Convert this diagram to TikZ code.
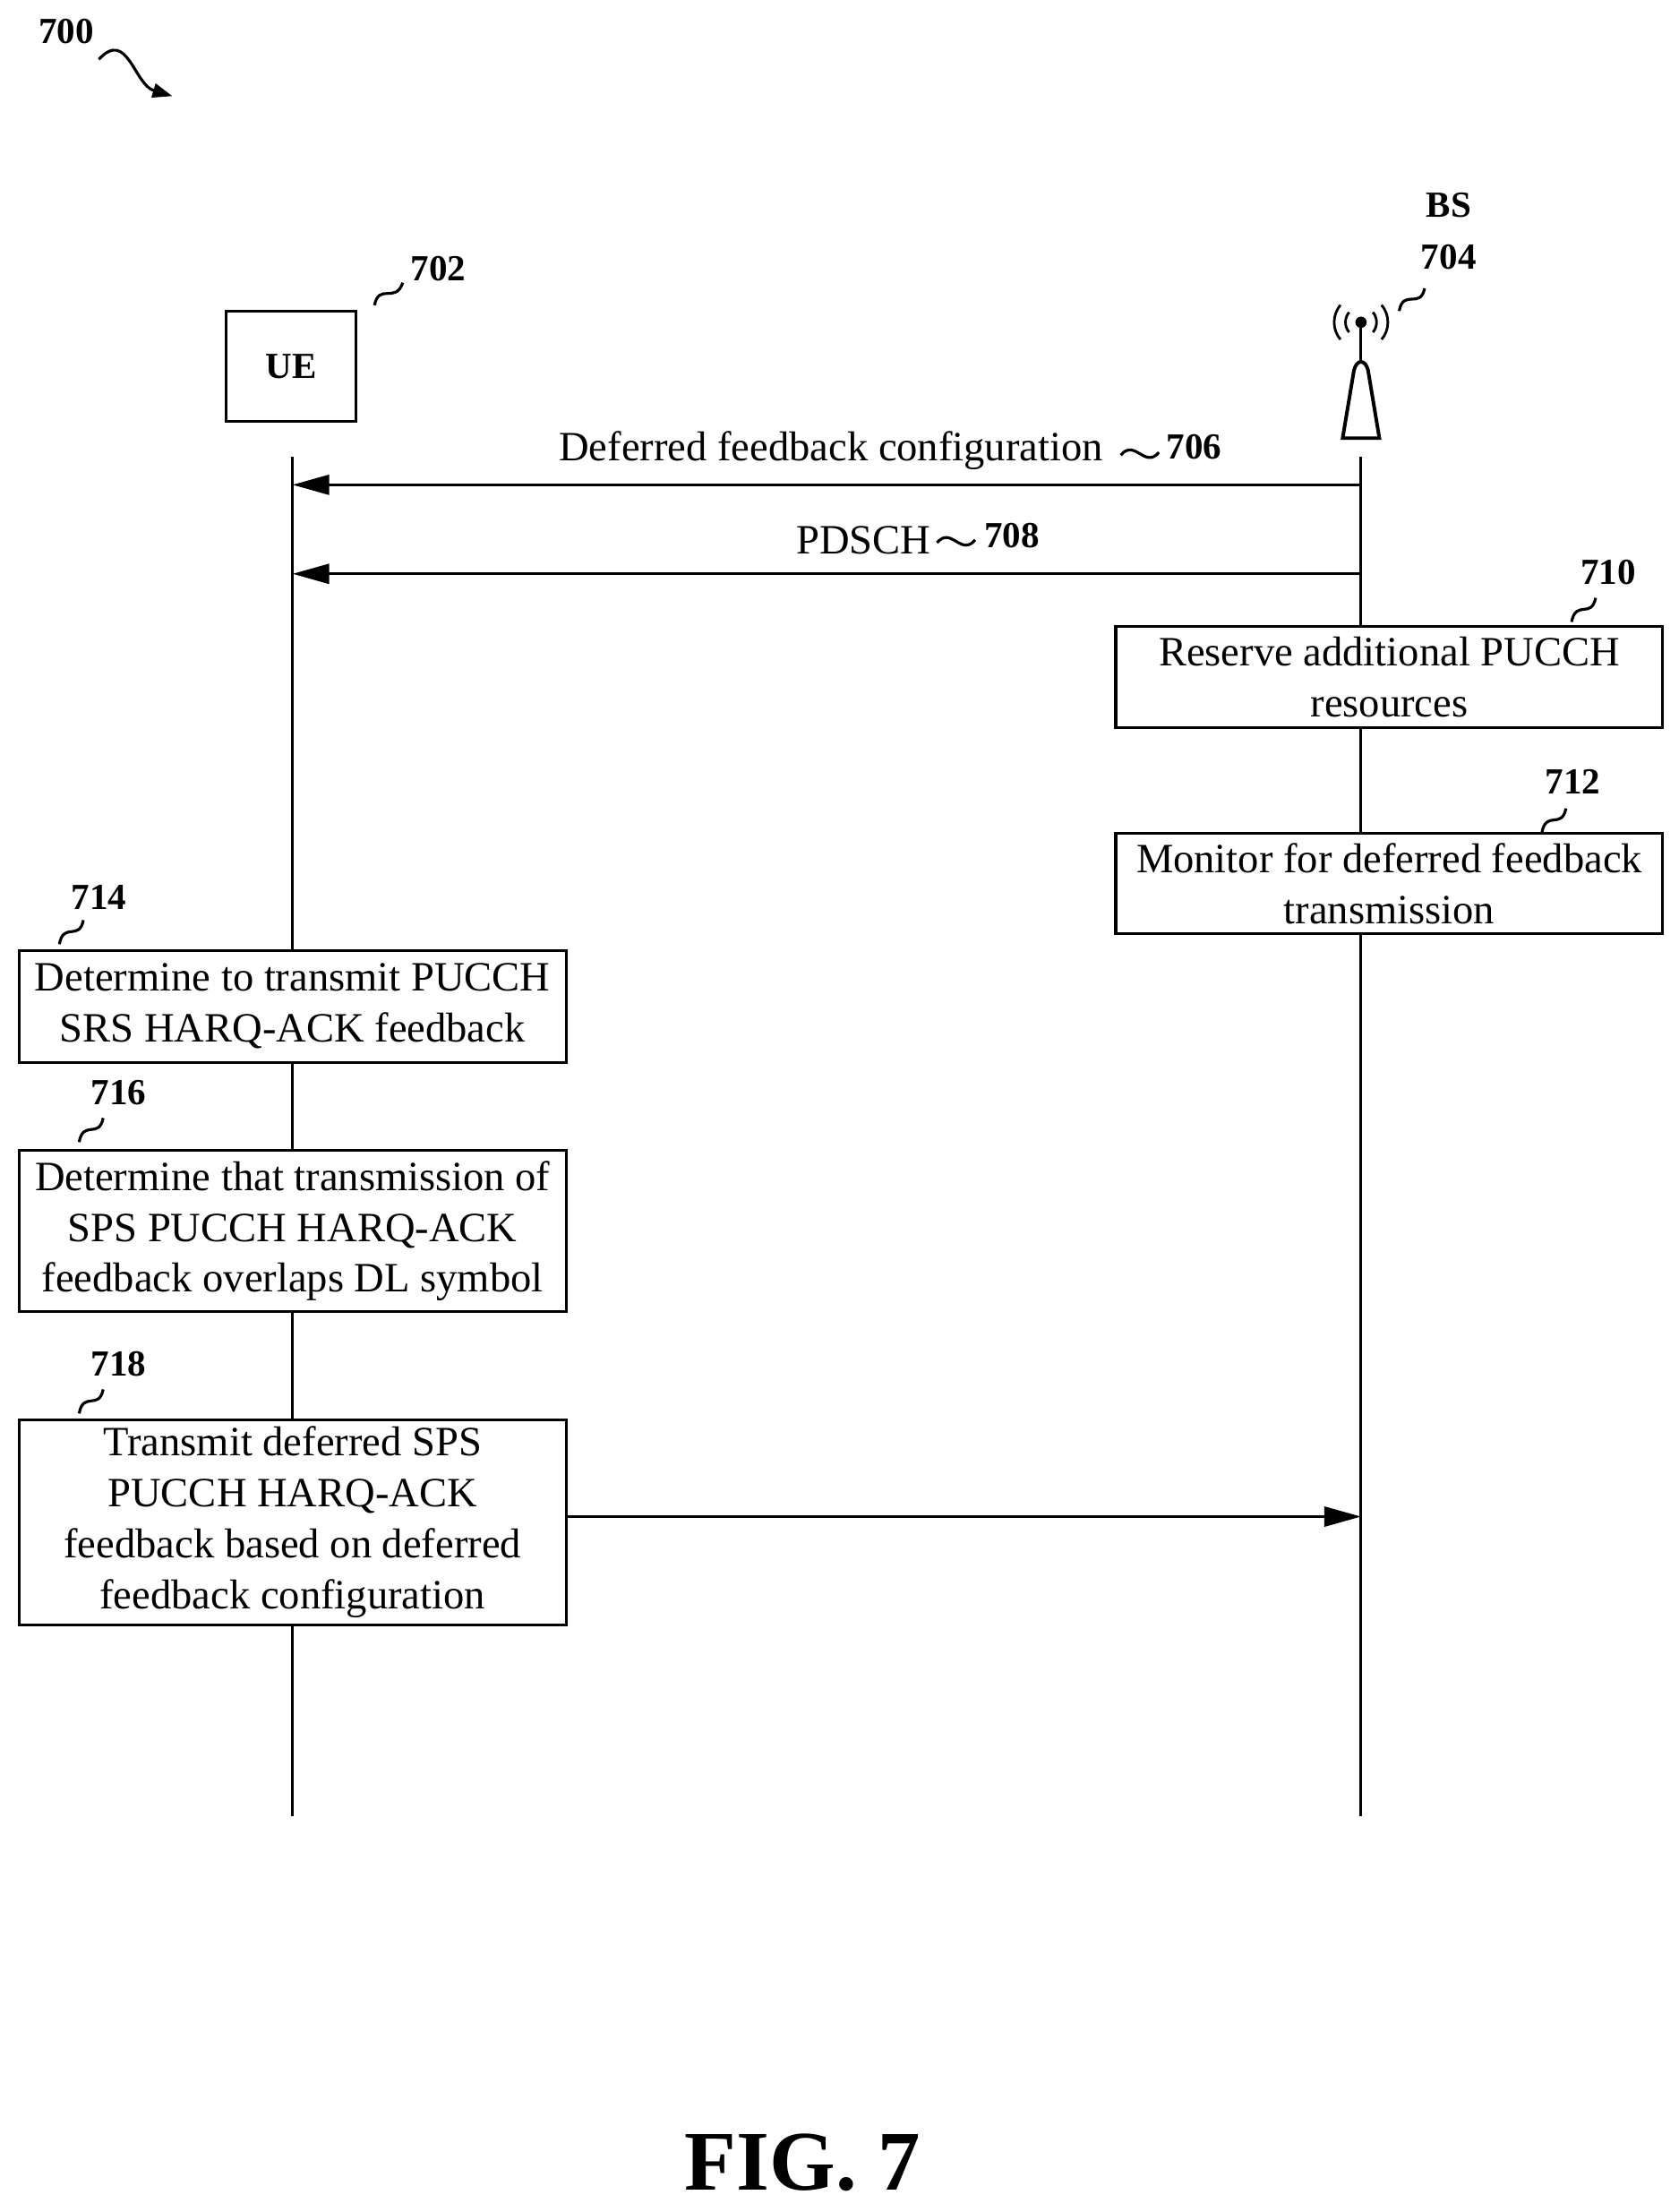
\documentclass[tikz,border=0pt]{standalone}
\usepackage{fontspec}
\setmainfont{Liberation Serif}
\usetikzlibrary{arrows.meta}
\begin{document}
\begin{tikzpicture}[x=1pt,y=-1pt,
  txt/.style={font=\fontsize{29.5}{33}\selectfont},
  lbl/.style={font=\fontsize{26}{30}\selectfont\bfseries},
  box/.style={draw,line width=2pt,align=center,inner sep=1pt,font=\fontsize{29.5}{36}\selectfont},
  line/.style={line width=2pt},
  arr/.style={line width=2pt,-{Triangle[length=26pt,width=14pt]}},
  sq/.style={line width=2pt}]
\useasboundingbox (0,0) rectangle (1188,1565);
% 700
\node[lbl] (n700) at (47,22) {700};
\coordinate (s700a) at (70,42);
\coordinate (s700b) at (122,68);
\draw[sq,-{Triangle[length=14pt,width=10pt]}] (s700a) .. controls (90,20) and (95,60) .. (s700b);
% UE
\node[draw,line width=2pt,minimum width=92pt,minimum height=78pt,font=\fontsize{26}{30}\selectfont\bfseries] (ue) at (206,259) {UE};
\node[lbl] (n702) at (310,190) {702};
\draw[sq] (265,216) .. controls (268,200) and (280,215) .. (285,200);
% BS
\node[lbl] (bs) at (1025,145) {BS};
\node[lbl] (n704) at (1025,182) {704};
\draw[sq] (990,220) .. controls (993,204) and (1005,219) .. (1008,204);
\draw[line width=2.5pt] (950,310) -- (958,262) .. controls (960,254) and (966,254) .. (968,262) -- (976,310) -- cycle;
\draw[line width=2pt] (963,256) -- (963,232);
\fill (963,228) circle (4pt);
\draw[line width=1.8pt] (963,228) ++(140:11) arc (140:220:11);
\draw[line width=1.8pt] (963,228) ++(140:19) arc (140:220:19);
\draw[line width=1.8pt] (963,228) ++(40:11) arc (40:-40:11);
\draw[line width=1.8pt] (963,228) ++(40:19) arc (40:-40:19);
% lifelines
\coordinate (uetop) at (207,323); \coordinate (uebot) at (207,1285);
\coordinate (bstop) at (963,323); \coordinate (bsbot) at (963,1285);
\draw[line] (uetop) -- (uebot);
\draw[line] (bstop) -- (bsbot);
% boxes
\node[box,fill=white,minimum width=387pt,minimum height=72pt] (b710) at (983,479) {Reserve additional PUCCH\\resources};
\node[lbl] (n710) at (1138,405) {710};
\draw[sq] (1112,440) .. controls (1115,424) and (1126,438) .. (1129,423);
\node[box,fill=white,minimum width=387pt,minimum height=71pt] (b712) at (983,625) {Monitor for deferred feedback\\transmission};
\node[lbl] (n712) at (1113,553) {712};
\draw[sq] (1091,589) .. controls (1094,573) and (1105,587) .. (1108,572);
\node[box,fill=white,minimum width=387pt,minimum height=79pt] (b714) at (207,712) {Determine to transmit PUCCH\\SRS HARQ-ACK feedback};
\node[lbl] (n714) at (70,635) {714};
\draw[sq] (42,668) .. controls (45,652) and (56,666) .. (59,651);
\node[box,fill=white,minimum width=387pt,minimum height=114pt] (b716) at (207,871) {Determine that transmission of\\SPS PUCCH HARQ-ACK\\feedback overlaps DL symbol};
\node[lbl] (n716) at (84,773) {716};
\draw[sq] (56,808) .. controls (59,792) and (70,806) .. (73,791);
\node[box,fill=white,minimum width=387pt,minimum height=145pt] (b718) at (207,1077) {Transmit deferred SPS\\PUCCH HARQ-ACK\\feedback based on deferred\\feedback configuration};
\node[lbl] (n718) at (84,965) {718};
\draw[sq] (56,1000) .. controls (59,984) and (70,998) .. (73,983);
% messages
\coordinate (m706s) at (963,343); \coordinate (m706e) at (207,343);
\draw[arr] (m706s) -- (m706e);
\node[txt] (t706) at (588,319) {Deferred feedback configuration};
\draw[sq] (793,322) .. controls (803,310) and (810,332) .. (820,320);
\node[lbl] (n706) at (845,316) {706};
\coordinate (m708s) at (963,406); \coordinate (m708e) at (207,406);
\draw[arr] (m708s) -- (m708e);
\node[txt] (t708) at (611,382) {PDSCH};
\draw[sq] (663,384) .. controls (673,372) and (680,394) .. (690,382);
\node[lbl] (n708) at (716,379) {708};
\coordinate (m718e) at (963,1073);
\draw[arr] (b718.east |- m718e) -- (m718e);
\node[font=\fontsize{60}{66}\selectfont\bfseries] (fig) at (568,1530) {FIG. 7};
\end{tikzpicture}
\end{document}
